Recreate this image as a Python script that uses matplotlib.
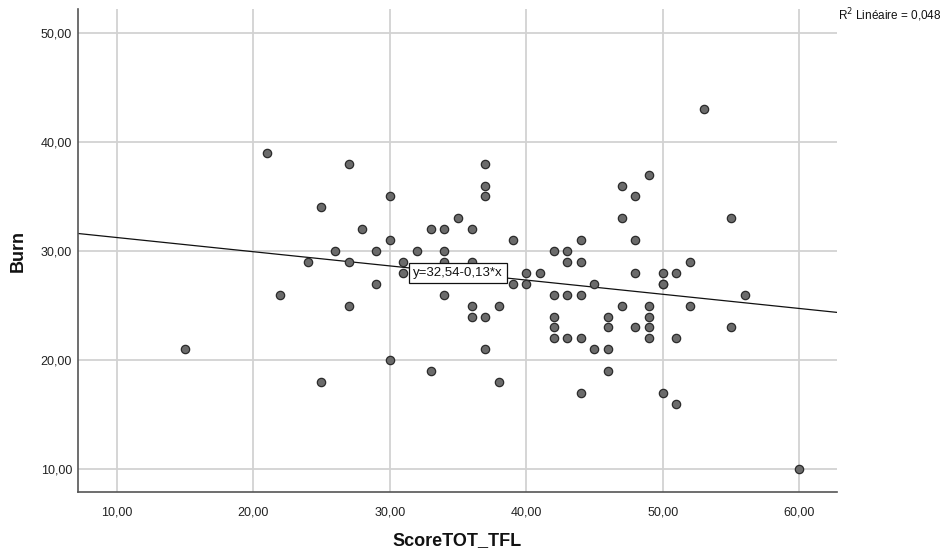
import matplotlib
matplotlib.use("Agg")
import matplotlib.pyplot as plt
import numpy as np

plt.rcParams['font.family'] = ['Liberation Sans', 'DejaVu Sans']

# Data (ScoreTOT_TFL vs Burn)
score_tot_tfl = [15, 21, 22, 24, 25, 25, 26, 27, 27, 27, 28, 29, 29, 30, 30, 30,
                 31, 31, 32, 33, 33, 34, 34, 34, 34, 35, 36, 36, 36, 36,
                 37, 37, 37, 37, 37, 38, 38, 39, 39, 40, 40, 41,
                 42, 42, 42, 42, 42, 43, 43, 43, 43, 44, 44, 44, 44, 44,
                 45, 45, 46, 46, 46, 46, 47, 47, 47, 48, 48, 48, 48,
                 49, 49, 49, 49, 49, 50, 50, 50, 50, 51, 51, 51, 52, 52,
                 53, 55, 55, 56, 60]
burn = [21, 39, 26, 29, 34, 18, 30, 38, 29, 25, 32, 30, 27, 35, 31, 20,
        29, 28, 30, 32, 19, 32, 30, 29, 26, 33, 32, 29, 25, 24,
        38, 36, 35, 24, 21, 25, 18, 31, 27, 28, 27, 28,
        30, 26, 24, 23, 22, 30, 29, 26, 22, 31, 29, 26, 22, 17,
        27, 21, 24, 23, 21, 19, 36, 33, 25, 35, 31, 28, 23,
        37, 25, 24, 23, 22, 28, 27, 27, 17, 28, 22, 16, 29, 25,
        43, 33, 23, 26, 10]

fit_intercept = 32.54
fit_slope = -0.13
fit_label = "y=32,54-0,13*x"
r2_label = "R$^2$ Linéaire = 0,048"
x_ticks = [10, 20, 30, 40, 50, 60]
y_ticks = [10, 20, 30, 40, 50]
x_label = "ScoreTOT_TFL"
y_label = "Burn"

fig = plt.figure(figsize=(9.42, 5.5), dpi=100)
ax = fig.add_axes([0.0831, 0.1049, 0.8051, 0.8787])
xlim = (7.19, 62.74)
ylim = (7.9, 52.17)
ax.set_xlim(*xlim)
ax.set_ylim(*ylim)

ax.set_xticks(x_ticks)
ax.set_yticks(y_ticks)
fmt = lambda v: f"{v:.2f}".replace(".", ",")
ax.set_xticklabels([fmt(v) for v in x_ticks])
ax.set_yticklabels([fmt(v) for v in y_ticks])
ax.tick_params(axis='both', length=0, labelsize=9, colors='#222222')
ax.tick_params(axis='x', pad=10)
ax.tick_params(axis='y', pad=4.5)

ax.grid(True, color='#d2d2d2', linewidth=1.3)
ax.set_axisbelow(True)
for s in ['top', 'right']:
    ax.spines[s].set_visible(False)
for s in ['left', 'bottom']:
    ax.spines[s].set_color('#555555')
    ax.spines[s].set_linewidth(1.2)

xs = np.array(xlim)
ax.plot(xs, fit_intercept + fit_slope * xs, color='#111111', linewidth=0.9, zorder=2)

ax.scatter(score_tot_tfl, burn, s=36, facecolor='#6b6b6b', edgecolor='#2b2b2b',
           linewidth=0.9, zorder=3)

ax.text(35, 28, fit_label, ha='center', va='center', fontsize=9.5, color='#111111',
        zorder=4,
        bbox=dict(boxstyle='square,pad=0.32', facecolor='white', edgecolor='#111111',
                  linewidth=0.9))

fig.text(838 / 942, 1 - 20 / 550, r2_label, ha='left', va='baseline', fontsize=8.5,
         color='#111111')

fig.text(457 / 942, 1 - 545 / 550, x_label, ha='center', va='baseline', fontsize=13,
         fontweight='bold', color='#111111')
fig.text(18 / 942, 1 - 251 / 550, y_label, ha='center', va='center', rotation=90,
         fontsize=13, fontweight='bold', color='#111111')

fig.savefig("out.png", dpi=100)
